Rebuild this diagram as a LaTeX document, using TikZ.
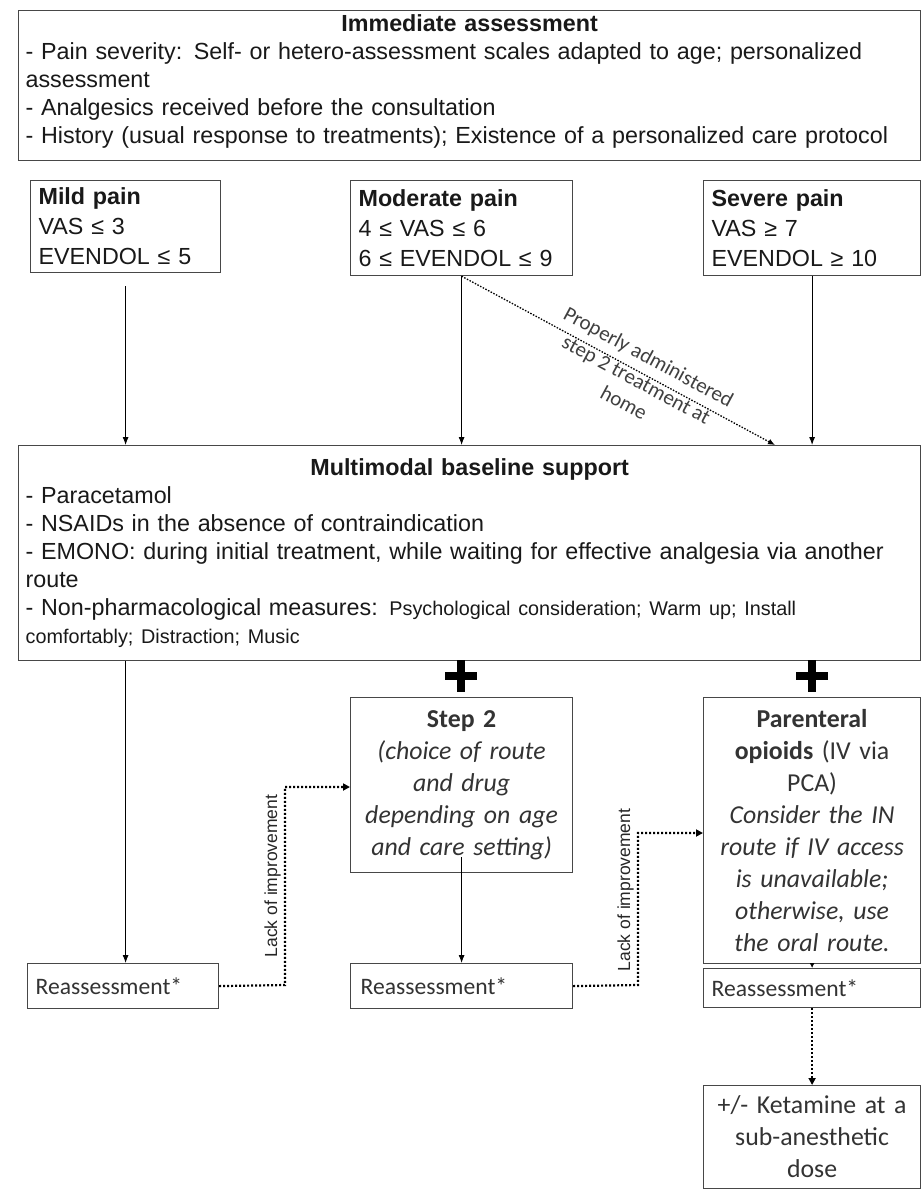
\documentclass[tikz,border=0pt]{standalone}
\usepackage{fontspec}
\setmainfont{Liberation Sans}
\newfontfamily\calfont{Carlito}
\usetikzlibrary{arrows.meta}

\tikzset{
  box/.style={draw=black!72, line width=1.2pt, anchor=north west,
    inner xsep=8pt, inner ysep=0pt, align=left, text=black!90},
  arialtext/.style={font=\fontsize{23.3pt}{28pt}\selectfont},
  caltext/.style={font=\calfont\fontsize{25.8pt}{32pt}\selectfont, text=black!80},
  retext/.style={font=\calfont\fontsize{23.6pt}{28pt}\selectfont, text=black!80},
  arr/.style={line width=0.9pt, -{Latex[length=8pt,width=6pt]}},
  dotarr/.style={line width=2.2pt, dash pattern=on 2pt off 2pt,
    -{Triangle[length=7pt,width=7pt]}},
  thinDot/.style={line width=1.3pt, dash pattern=on 1.5pt off 1.5pt,
    -{Latex[length=7pt,width=6pt]}},
  sidelabel/.style={rotate=90, anchor=south, inner sep=2pt,
    font=\fontsize{17.5pt}{20pt}\selectfont, text=black!85},
  pluscross/.style={line width=8pt},
}

\begin{document}
\begin{tikzpicture}[x=1pt,y=-1pt]
\useasboundingbox (0,0) rectangle (922,1192);
\fill[white] (0,0) rectangle (922,1192);

% Initial assessment
\node[box, arialtext, minimum width=902pt, minimum height=150pt, text width=888pt,
  inner xsep=7pt] (assess) at (18,10) {%
  \makebox[\linewidth]{\bfseries Immediate assessment}\\
  - Pain severity: Self- or hetero-assessment scales adapted to age; personalized\\
  assessment\\
  - Analgesics received before the consultation\\
  - History (usual response to treatments); Existence of a personalized care protocol\par
  \vspace*{8pt}};

% Pain levels
\node[box, font=\fontsize{23.3pt}{30pt}\selectfont, minimum width=190pt, minimum height=92pt,
  text width=174pt, inner xsep=8pt] (mild) at (30,180) {%
  \textbf{Mild pain}\\ VAS ≤ 3\\ EVENDOL ≤ 5};
\node[box, font=\fontsize{23.3pt}{30pt}\selectfont, minimum width=222pt, minimum height=95pt,
  text width=206pt, inner xsep=8pt] (moderate) at (350,180) {%
  \textbf{Moderate pain}\\ 4 ≤ VAS ≤ 6\\ 6 ≤ EVENDOL ≤ 9};
\node[box, font=\fontsize{23.3pt}{30pt}\selectfont, minimum width=217pt, minimum height=95pt,
  text width=201pt, inner xsep=8pt] (severe) at (703,180) {%
  \textbf{Severe pain}\\ VAS ≥ 7\\ EVENDOL ≥ 10};

% Baseline support
\node[box, arialtext, minimum width=902pt, minimum height=215pt, text width=888pt,
  inner xsep=7pt] (multi) at (18,445) {%
  \makebox[\linewidth]{\bfseries Multimodal baseline support}\\
  - Paracetamol\\
  - NSAIDs in the absence of contraindication\\
  - EMONO: during initial treatment, while waiting for effective analgesia via another\\
  route\\
  - Non-pharmacological measures: {\fontsize{19.8pt}{28pt}\selectfont Psychological consideration; Warm up; Install}\\
  {\fontsize{19.8pt}{28pt}\selectfont comfortably; Distraction; Music}};

% Treatment steps
\node[box, caltext, align=center, minimum width=222pt, minimum height=175pt,
  text width=214pt, inner xsep=4pt] (step2) at (350,697) {%
  \textbf{Step 2}\\ \textit{(choice of route}\\ \textit{and drug}\\
  \textit{depending on age}\\ \textit{and care setting)}};
\node[box, caltext, align=center, minimum width=217pt, minimum height=266pt,
  text width=209pt, inner xsep=4pt] (paren) at (703,697) {%
  \textbf{Parenteral}\\ \textbf{opioids} (IV via\\ PCA)\\ \textit{Consider the IN}\\
  \textit{route if IV access}\\ \textit{is unavailable;}\\ \textit{otherwise, use}\\
  \textit{the oral route.}};

% Reassessments
\node[box, retext, minimum width=191pt, minimum height=45pt, text width=175pt]
  (re1) at (27,963) {Reassessment*};
\node[box, retext, minimum width=222pt, minimum height=45pt, text width=202pt,
  inner xsep=10pt] (re2) at (350,963) {Reassessment*};
\node[box, retext, minimum width=217pt, minimum height=39pt, text width=201pt]
  (re3) at (703,968) {Reassessment*};

\node[box, caltext, align=center, minimum width=217pt, minimum height=103pt,
  text width=209pt, inner xsep=4pt] (ket) at (703,1085) {%
  +/- Ketamine at a\\ sub-anesthetic\\ dose};

% Connectors from the pain levels
\draw[arr] ([yshift=-13pt]mild.south) -- (mild.south |- multi.north);
\draw[arr] (moderate.south) -- (moderate.south |- multi.north);
\draw[arr] (severe.south) -- (severe.south |- multi.north);
\coordinate (homeEnd) at (775,445);
\draw[thinDot] (moderate.south) -- (homeEnd)
  node[pos=0.57, sloped, align=center, font=\calfont\fontsize{21pt}{26pt}\selectfont,
    text=black!75, yshift=-8pt] (homelbl)
  {Properly administered\\ step 2 treatment at\\ home};

% Plus signs
\draw[pluscross] (461,660) -- (461,692) (445,676) -- (477,676);
\draw[pluscross] (812,660) -- (812,692) (796,676) -- (828,676);

% Downward connectors
\draw[arr] (mild.south |- multi.south) -- (mild.south |- re1.north);
\draw[arr] ([yshift=16pt]step2.south) -- (step2.south |- re2.north);
\draw[line width=0.9pt, -{Latex[length=5pt,width=5pt]}] (paren.south) -- (re3.north);

% Escalation on lack of improvement
\coordinate (esc1) at (285,985);
\coordinate (esc2) at (638,985);
\draw[dotarr] (re1.east) -- (esc1) -- (esc1 |- 0,787) -- (step2.west |- 0,787);
\draw[dotarr] (re2.east) -- (esc2) -- (esc2 |- 0,833) -- (paren.west |- 0,833);
\node[sidelabel] (lack1) at (283,876) {Lack of improvement};
\node[sidelabel] (lack2) at (636,890) {Lack of improvement};
\draw[dotarr] (re3.south) -- (ket.north);
\end{tikzpicture}
\end{document}
